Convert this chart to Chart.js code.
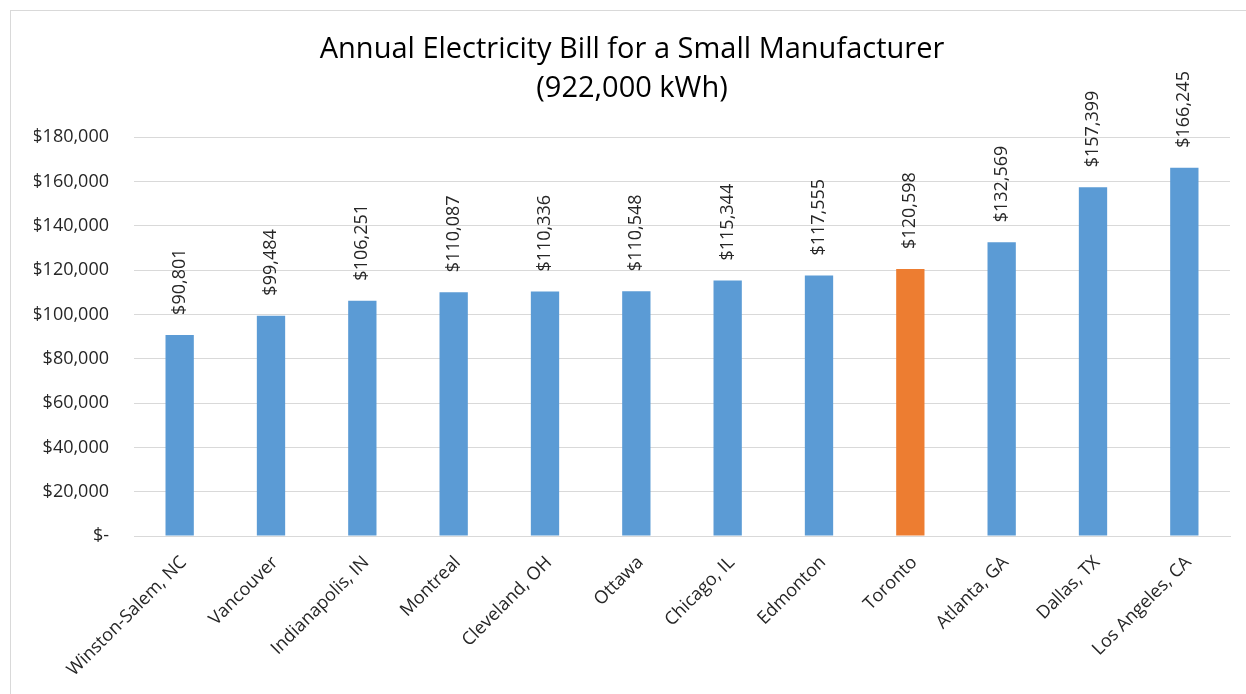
<!DOCTYPE html>
<html>
<head>
<meta charset="utf-8">
<script src="https://cdn.jsdelivr.net/npm/chart.js@4"></script>
<style>
    html, body { margin: 0; padding: 0; background: #fff; overflow: hidden; }
    .frame {
        position: absolute; left: 10px; top: 10px; width: 1260px; height: 720px;
        border: 1px solid #d9d9d9; box-sizing: border-box;
    }
    .wrap { position: absolute; left: 0; top: 0; width: 1246px; height: 694px; }
</style>
</head>
<body>
<div class="frame"></div>
<div class="wrap"><canvas id="billChart"></canvas></div>
<script>
const cities = ['Winston-Salem, NC', 'Vancouver', 'Indianapolis, IN', 'Montreal', 'Cleveland, OH', 'Ottawa',
    'Chicago, IL', 'Edmonton', 'Toronto', 'Atlanta, GA', 'Dallas, TX', 'Los Angeles, CA'];
const annualBill = [90801, 99484, 106251, 110087, 110336, 110548, 115344, 117555, 120598, 132569, 157399, 166245];
const highlightCity = 'Toronto';
const titleLines = ['Annual Electricity Bill for a Small Manufacturer', '(922,000 kWh)'];

const FONT = "'Open Sans', sans-serif";
const TEXT_COLOR = '#262626';

const money = v => v === 0 ? '$-' : '$' + v.toLocaleString('en-US');

// value labels standing upright above each bar
const barValueLabels = {
    id: 'barValueLabels',
    afterDatasetsDraw(chart) {
        const ctx = chart.ctx;
        const meta = chart.getDatasetMeta(0);
        ctx.save();
        ctx.font = `18px ${FONT}`;
        ctx.fillStyle = TEXT_COLOR;
        ctx.textAlign = 'left';
        ctx.textBaseline = 'middle';
        meta.data.forEach((bar, i) => {
            ctx.save();
            ctx.translate(bar.x, bar.y - 20);
            ctx.rotate(-Math.PI / 2);
            ctx.fillText(money(annualBill[i]), 0, 0);
            ctx.restore();
        });
        ctx.restore();
    }
};

new Chart(document.getElementById('billChart'), {
    type: 'bar',
    data: {
        labels: cities,
        datasets: [{
            data: annualBill,
            backgroundColor: cities.map(c => c === highlightCity ? '#ED7D31' : '#5B9BD5'),
            barPercentage: 0.31,
            categoryPercentage: 1
        }]
    },
    options: {
        responsive: true,
        maintainAspectRatio: false,
        animation: false,
        layout: { padding: { left: 34, right: 16, top: 0, bottom: 0 } },
        plugins: {
            legend: { display: false },
            tooltip: { enabled: false },
            title: {
                display: true,
                text: titleLines,
                color: '#000',
                font: { family: FONT, size: 29, weight: 'normal', lineHeight: 1.35 },
                padding: { top: 30, bottom: 29 }
            }
        },
        scales: {
            x: {
                grid: { display: false },
                border: { color: '#d9d9d9' },
                ticks: {
                    color: TEXT_COLOR,
                    font: { family: FONT, size: 18 },
                    minRotation: 45,
                    maxRotation: 45,
                    padding: 8,
                    labelOffset: 4
                },
                afterFit(scale) { scale.height = 158; }
            },
            y: {
                min: 0,
                max: 180000,
                grid: { color: '#d9d9d9', drawTicks: false },
                border: { display: false },
                ticks: {
                    stepSize: 20000,
                    color: TEXT_COLOR,
                    font: { family: FONT, size: 18 },
                    padding: 25,
                    callback: v => money(v)
                },
                afterFit(scale) { scale.width = 100; }
            }
        }
    },
    plugins: [barValueLabels]
});
</script>
</body>
</html>
